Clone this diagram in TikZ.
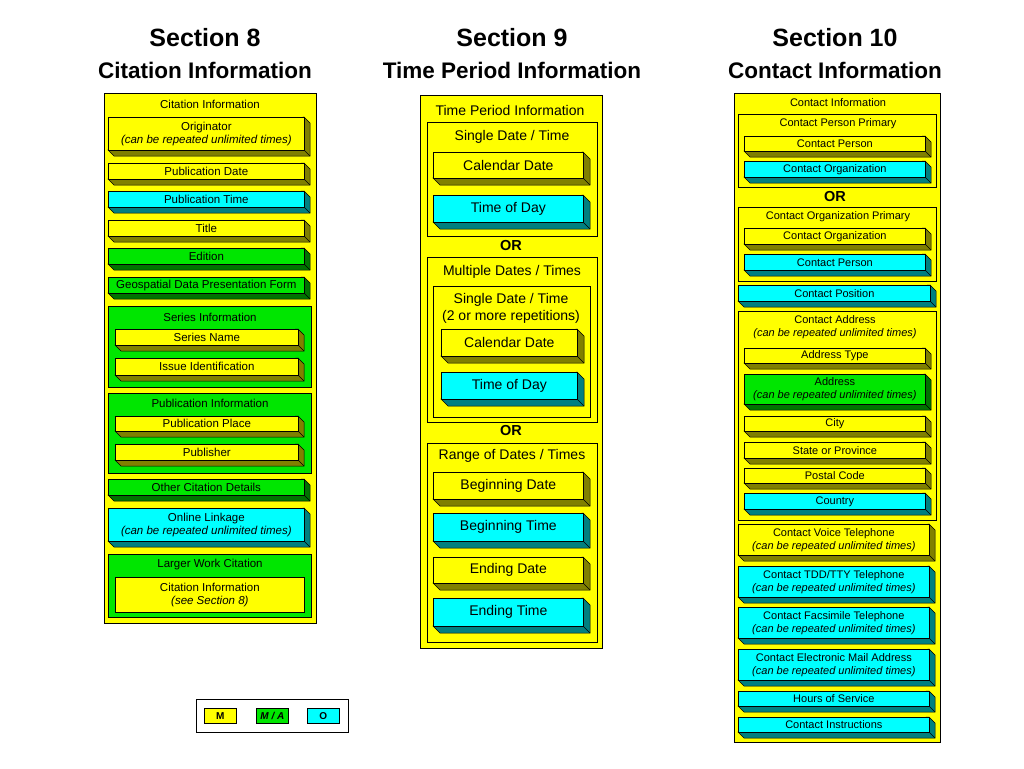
\documentclass[tikz,border=0pt]{standalone}
\usepackage{fontspec}
\setmainfont{Liberation Sans}
\usepackage{tikz}
\usetikzlibrary{positioning}

\definecolor{mYellow}{RGB}{255,255,0}
\definecolor{mGreen}{RGB}{0,230,0}
\definecolor{mCyan}{RGB}{0,255,255}

\tikzset{
	front/.style={draw=black, line width=0.7pt, inner sep=0pt, align=center},
	grp/.style={draw=black, line width=0.7pt, inner sep=0pt},
	head/.style={font=\bfseries\fontsize{25}{30}\selectfont},
	subhead/.style={font=\bfseries\fontsize{22.5}{27}\selectfont},
	ortxt/.style={font=\bfseries\fontsize{14.5}{17}\selectfont},
	legbox/.style={draw=black, line width=0.7pt, inner sep=0pt, minimum width=32, minimum height=15, font=\bfseries\fontsize{10}{12}\selectfont},
}

\begin{document}
\begin{tikzpicture}[x=1pt, y=-1pt]

	% name, x1, y1, x2, y2, colour, text
	\newcommand{\DeepBox}[7]{
		\filldraw [draw=black, line width=0.5pt, fill=#6!50!black]
		(#2,#5) -- ({#2+\dep},{#5+\dep}) -- ({#4+\dep},{#5+\dep}) -- ({#4+\dep},{#3+\dep}) -- (#4,#3) -- cycle;
		\draw [line width=0.5pt] (#4,#5) -- ({#4+\dep},{#5+\dep});
		\node[front, fill=#6, minimum width={#4-#2}, minimum height={#5-#3}, anchor=north west] (#1) at (#2,#3) {#7};
	}
	% name, x1, y1, x2, y2, colour
	\newcommand{\FlatBox}[6]{
		\node[grp, fill=#6, minimum width={#4-#2}, minimum height={#5-#3}, anchor=north west] (#1) at (#2,#3) {};
	}

	\useasboundingbox (0,0) rectangle (1024,768);

	\node[head] (h8) at (205,38) {Section 8};
	\node[subhead] (s8) at (205,70) {Citation Information};
	\node[head] (h9) at (512,38) {Section 9};
	\node[subhead] (s9) at (512,70) {Time Period Information};
	\node[head] (h10) at (835,38) {Section 10};
	\node[subhead] (s10) at (835,70) {Contact Information};

	% Section 8
	\begin{scope}[every node/.append style={align=center, font=\fontsize{11.5}{13.5}\selectfont}]
		\def\dep{6}
		\FlatBox{cit}{104}{93}{316}{623}{mYellow}
		\node (cit-t) at (210,104) {Citation Information};
		\DeepBox{orig}{108}{117}{304}{150}{mYellow}{Originator\\\textit{(can be repeated unlimited times)}}
		\DeepBox{pubdate}{108}{163}{304}{179}{mYellow}{Publication Date}
		\DeepBox{pubtime}{108}{191}{304}{207}{mCyan}{Publication Time}
		\DeepBox{title}{108}{220}{304}{236}{mYellow}{Title}
		\DeepBox{edition}{108}{248}{304}{264}{mGreen}{Edition}
		\DeepBox{geoform}{108}{277}{304}{293}{mGreen}{Geospatial Data Presentation Form}
		\FlatBox{series}{108}{306}{311}{387}{mGreen}
		\node (series-t) at (210,317) {Series Information};
		\DeepBox{sername}{115}{329}{298}{345}{mYellow}{Series Name}
		\DeepBox{issue}{115}{358}{298}{375}{mYellow}{Issue Identification}
		\FlatBox{pubinfo}{108}{393}{311}{473}{mGreen}
		\node (pubinfo-t) at (210,403) {Publication Information};
		\DeepBox{pubplace}{115}{416}{298}{431}{mYellow}{Publication Place}
		\DeepBox{publisher}{115}{444}{298}{460}{mYellow}{Publisher}
		\DeepBox{othercit}{108}{479}{304}{495}{mGreen}{Other Citation Details}
		\DeepBox{online}{108}{508}{304}{541}{mCyan}{Online Linkage\\\textit{(can be repeated unlimited times)}}
		\FlatBox{larger}{108}{554}{311}{617}{mGreen}
		\node (larger-t) at (210,565) {Larger Work Citation};
		\node[front, fill=mYellow, minimum width=189, minimum height=35, anchor=north west] (citsee) at (115,577) {Citation Information\\\textit{(see Section 8)}};
	\end{scope}

	% Section 9
	\begin{scope}[every node/.append style={align=center, font=\fontsize{14}{17}\selectfont}]
		\def\dep{7}
		\FlatBox{tp}{420}{95}{602}{648}{mYellow}
		\node (tp-t) at (510,110) {Time Period Information};
		\FlatBox{single}{427}{122}{597}{236}{mYellow}
		\node (single-t) at (512,137) {Single Date / Time};
		\DeepBox{cal1}{433}{152}{583}{178}{mYellow}{Calendar Date}
		\DeepBox{tod1}{433}{195}{583}{222}{mCyan}{Time of Day}
		\node[ortxt] (or1) at (511,246) {OR};
		\FlatBox{multi}{427}{257}{597}{422}{mYellow}
		\node (multi-t) at (512,272) {Multiple Dates / Times};
		\FlatBox{rep}{433}{286}{590}{417}{mYellow}
		\node (rep-t) at (511,308) {Single Date / Time\\(2 or more repetitions)};
		\DeepBox{cal2}{441}{329}{577}{356}{mYellow}{Calendar Date}
		\DeepBox{tod2}{441}{372}{577}{399}{mCyan}{Time of Day}
		\node[ortxt] (or2) at (511,431) {OR};
		\FlatBox{range}{427}{443}{597}{642}{mYellow}
		\node (range-t) at (512,456) {Range of Dates / Times};
		\DeepBox{begdate}{433}{472}{583}{499}{mYellow}{Beginning Date}
		\DeepBox{begtime}{433}{513}{583}{541}{mCyan}{Beginning Time}
		\DeepBox{enddate}{433}{557}{583}{583}{mYellow}{Ending Date}
		\DeepBox{endtime}{433}{598}{583}{626}{mCyan}{Ending Time}
	\end{scope}

	% Section 10
	\begin{scope}[every node/.append style={align=center, font=\fontsize{11}{13}\selectfont}]
		\def\dep{6}
		\FlatBox{ci}{734}{93}{940}{742}{mYellow}
		\node (ci-t) at (838,103) {Contact Information};
		\FlatBox{cpp}{738}{114}{936}{187}{mYellow}
		\node (cpp-t) at (838,124) {Contact Person Primary};
		\DeepBox{cp1}{744}{136}{925}{151}{mYellow}{Contact Person}
		\DeepBox{co1}{744}{161}{925}{177}{mCyan}{Contact Organization}
		\node[ortxt] (or3) at (835,197) {OR};
		\FlatBox{cop}{738}{207}{936}{281}{mYellow}
		\node (cop-t) at (838,217) {Contact Organization Primary};
		\DeepBox{co2}{744}{228}{925}{244}{mYellow}{Contact Organization}
		\DeepBox{cp2}{744}{254}{925}{270}{mCyan}{Contact Person}
		\DeepBox{cpos}{738}{285}{930}{301}{mCyan}{Contact Position}
		\FlatBox{addr}{738}{311}{936}{520}{mYellow}
		\node (addr-t) at (835,327) {Contact Address\\\textit{(can be repeated unlimited times)}};
		\DeepBox{addrtype}{744}{348}{925}{363}{mYellow}{Address Type}
		\DeepBox{address}{744}{374}{925}{404}{mGreen}{Address\\\textit{(can be repeated unlimited times)}}
		\DeepBox{city}{744}{416}{925}{431}{mYellow}{City}
		\DeepBox{state}{744}{442}{925}{458}{mYellow}{State or Province}
		\DeepBox{postal}{744}{468}{925}{483}{mYellow}{Postal Code}
		\DeepBox{country}{744}{493}{925}{509}{mCyan}{Country}
		\DeepBox{voice}{738}{524}{929}{555}{mYellow}{Contact Voice Telephone\\\textit{(can be repeated unlimited times)}}
		\DeepBox{tdd}{738}{566}{929}{597}{mCyan}{Contact TDD/TTY Telephone\\\textit{(can be repeated unlimited times)}}
		\DeepBox{fax}{738}{607}{929}{638}{mCyan}{Contact Facsimile Telephone\\\textit{(can be repeated unlimited times)}}
		\DeepBox{email}{738}{649}{929}{680}{mCyan}{Contact Electronic Mail Address\\\textit{(can be repeated unlimited times)}}
		\DeepBox{hours}{738}{691}{929}{706}{mCyan}{Hours of Service}
		\DeepBox{instr}{738}{717}{929}{732}{mCyan}{Contact Instructions}
	\end{scope}

	% legend
	\node[draw=black, line width=0.8pt, fill=white, minimum width=152, minimum height=33, anchor=north west] (legend) at (196,699) {};
	\node[legbox, fill=mYellow, anchor=north west] (legM) at (204,708) {M};
	\node[legbox, fill=mGreen, anchor=north west] (legMA) at (256,708) {\textit{M / A}};
	\node[legbox, fill=mCyan, anchor=north west] (legO) at (307,708) {O};

%	\draw [help lines, step=50] (0,0) grid (1024,768);

\end{tikzpicture}
\end{document}
